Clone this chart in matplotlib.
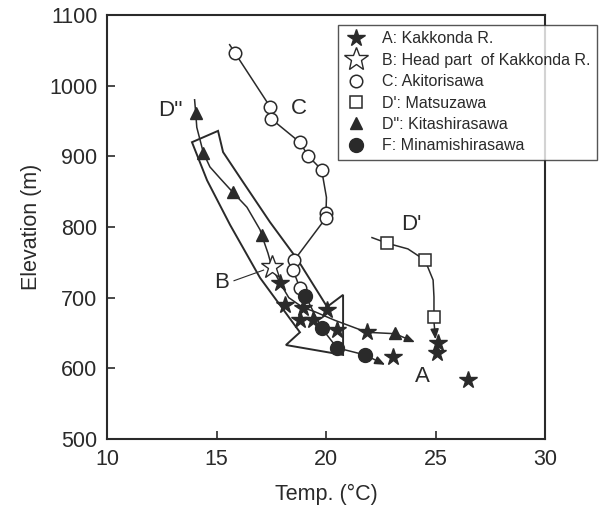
#!/usr/bin/env python
"""Temperatura del agua vs. elevacion - rios de Kakkonda (figura)."""

import matplotlib

matplotlib.use("Agg")
import matplotlib.pyplot as plt
from matplotlib.lines import Line2D
from matplotlib.patches import Polygon

INK = "#2a2a2a"

# A: Kakkonda R. (estrellas llenas)
a_temp = [17.9, 18.15, 18.95, 18.8, 19.4, 20.05, 20.5, 21.87, 23.05, 25.1, 25.05, 26.5]
a_elev = [721, 689, 685, 668, 668, 683, 654, 651, 616, 636, 622, 583]

# B: cabecera del Kakkonda (estrella abierta)
b_temp = [17.53]
b_elev = [743]

# C: Akitorisawa
c_temp = [15.85, 17.45, 17.5, 18.8, 19.2, 19.8, 20.0, 20.0, 18.55, 18.5, 18.8]
c_elev = [1046, 970, 953, 920, 900, 881, 820, 813, 753, 739, 714]
c_line_temp = [15.6, 15.85, 17.45, 17.5, 18.8, 19.2, 19.8, 20.02, 20.0, 20.0, 18.55, 18.5, 18.8]
c_line_elev = [1058, 1046, 970, 953, 920, 900, 881, 842, 820, 813, 753, 739, 714]

# D': Matsuzawa
d1_temp = [22.8, 24.5, 24.93]
d1_elev = [777, 753, 673]
d1_line_temp = [22.1, 22.8, 23.74, 24.52, 24.89, 24.93, 24.93]
d1_line_elev = [785, 777, 769, 753, 725, 701, 673]
d1_arrow = [(24.93, 666), (25.0, 641)]

# D'': Kitashirasawa
d2_temp = [14.05, 14.4, 15.75, 17.06, 23.15]
d2_elev = [962, 905, 849, 789, 650]
d2_line_temp = [14.0, 14.05, 14.1, 14.25, 14.4, 14.7, 15.16, 15.75, 16.39, 16.99, 17.06, 17.35, 17.53]
d2_line_elev = [980, 962, 941, 923, 905, 885, 869, 849, 828, 796, 789, 763, 743]

# tramo aguas abajo (Kakkonda) con flecha
up_line_temp = [17.53, 17.9, 18.3, 18.95, 19.5, 20.4, 21.87, 23.15]
up_line_elev = [743, 721, 700, 686, 680, 668, 651, 649]
up_arrow = [(23.15, 649), (24.06, 637)]

# F: Minamishirasawa
f_temp = [19.05, 19.8, 20.5, 21.78]
f_elev = [703, 657, 629, 619]
f_arrow = [(21.78, 619), (22.7, 605)]

# flecha ancha (contorno)
band_temp = [13.88, 14.57, 15.62, 16.99, 18.81, 18.17, 20.78, 20.78, 20.05,
             18.72, 17.44, 16.16, 15.3, 15.07]
band_elev = [920, 866, 803, 728, 651, 633, 619, 704, 687,
             753, 807, 866, 906, 936]

x_ticks = [10, 15, 20, 25, 30]
y_ticks = [500, 600, 700, 800, 900, 1000, 1100]

plt.rcParams["font.family"] = ["Liberation Sans", "DejaVu Sans"]

fig = plt.figure(figsize=(6.04, 5.07), dpi=100)
ax = fig.add_axes([107 / 604, 1 - 439 / 507, 438 / 604, 424 / 507])

lw = 1.1

# contorno de la flecha ancha
ax.add_patch(Polygon(list(zip(band_temp, band_elev)), closed=True, fill=False,
                     edgecolor=INK, lw=1.4, zorder=2))

# lineas
ax.plot(c_line_temp, c_line_elev, color=INK, lw=lw, zorder=2)
ax.plot(d1_line_temp, d1_line_elev, color=INK, lw=lw, zorder=2)
ax.plot(d2_line_temp, d2_line_elev, color=INK, lw=lw, zorder=2)
ax.plot(up_line_temp, up_line_elev, color=INK, lw=lw, zorder=2)
ax.plot(f_temp, f_elev, color=INK, lw=lw, zorder=2)

arrow_kw = dict(arrowstyle="-|>,head_length=0.6,head_width=0.25", color=INK,
                lw=lw, shrinkA=0, shrinkB=0)
for seg in (d1_arrow, up_arrow, f_arrow):
    ax.annotate("", xy=seg[1], xytext=seg[0], arrowprops=arrow_kw, zorder=2)

# marcadores
ax.plot(c_temp, c_elev, "o", ms=9, mfc="white", mec=INK, mew=1.1, zorder=3)
ax.plot(d1_temp, d1_elev, "s", ms=8.5, mfc="white", mec=INK, mew=1.1, zorder=3)
ax.plot(d2_temp, d2_elev, "^", ms=8.5, color=INK, zorder=3)
ax.plot(f_temp, f_elev, "o", ms=10, color=INK, zorder=3)
ax.plot(a_temp, a_elev, "*", ms=13, color=INK, zorder=4)
ax.plot(b_temp, b_elev, "*", ms=17, mfc="white", mec=INK, mew=1.0, zorder=4)

# etiquetas de rios
lbl = dict(fontsize=16, color=INK, ha="center", va="center")
ax.text(24.4, 588, "A", **lbl)
ax.text(15.25, 721, "B", **lbl)
ax.text(18.75, 968, "C", **lbl)
ax.text(23.9, 803, "D'", **lbl)
ax.text(12.9, 965, "D''", **lbl)
ax.plot([15.8, 17.15], [724, 739], color=INK, lw=0.8, zorder=2)

ax.set_xlim(10, 30)
ax.set_ylim(500, 1100)
ax.set_xticks(x_ticks)
ax.set_yticks(y_ticks)
ax.tick_params(direction="in", length=6, width=1.2, colors=INK, labelsize=15.5, pad=7)
for sp in ax.spines.values():
    sp.set_linewidth(1.5)
    sp.set_color(INK)
ax.set_xlabel("Temp. (°C)", fontsize=15.5, color=INK, labelpad=10)
ax.set_ylabel("Elevation (m)", fontsize=15.5, color=INK, labelpad=5)

handles = [
    Line2D([], [], ls="none", marker="*", ms=13, color=INK),
    Line2D([], [], ls="none", marker="*", ms=18, mfc="white", mec=INK, mew=1.0),
    Line2D([], [], ls="none", marker="o", ms=9, mfc="white", mec=INK, mew=1.1),
    Line2D([], [], ls="none", marker="s", ms=8.5, mfc="white", mec=INK, mew=1.1),
    Line2D([], [], ls="none", marker="^", ms=8.5, color=INK),
    Line2D([], [], ls="none", marker="o", ms=10, color=INK),
]
labels = ["A: Kakkonda R.", "B: Head part  of Kakkonda R.", "C: Akitorisawa",
          "D': Matsuzawa", "D\": Kitashirasawa", "F: Minamishirasawa"]
leg = ax.legend(handles, labels, loc="upper left",
                bbox_to_anchor=(338 / 604, 1 - 25 / 507),
                bbox_transform=fig.transFigure, borderaxespad=0,
                fontsize=11.5, frameon=True, fancybox=False, borderpad=0.4,
                handlelength=1.4, handletextpad=0.95, labelspacing=0.4)
leg.get_frame().set_edgecolor(INK)
leg.get_frame().set_linewidth(1.0)
for t in leg.get_texts():
    t.set_color(INK)

fig.savefig("out.png", dpi=100)
